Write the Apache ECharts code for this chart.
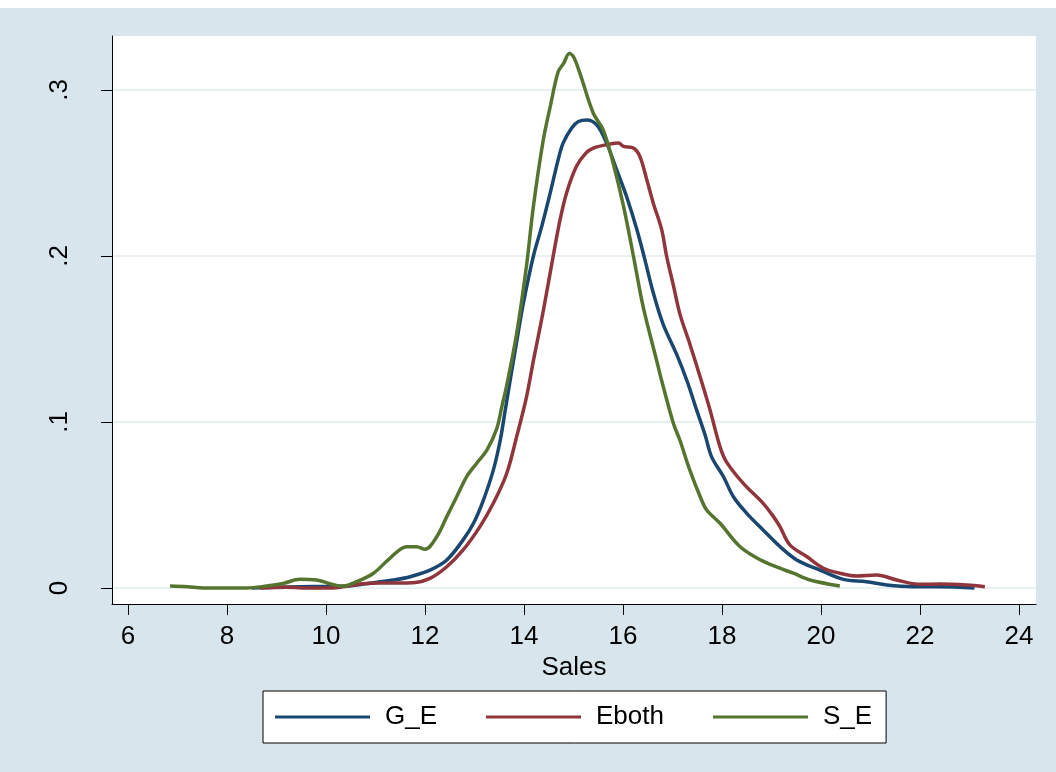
<!DOCTYPE html>
<html>
<head>
<meta charset="utf-8">
<script src="https://cdn.jsdelivr.net/npm/echarts@6/dist/echarts.min.js"></script>
<style>
html,body{margin:0;padding:0;background:#fff;}
#chart{width:1056px;height:772px;}
</style>
</head>
<body>
<div id="chart"></div>
<script>
// ---- data (x = Sales, y = density) ----
const seriesNames = ['G_E', 'Eboth', 'S_E'];
const xTicks = [6, 8, 10, 12, 14, 16, 18, 20, 22, 24];
const yTicks = [0, 0.1, 0.2, 0.3];
const yTickLabels = ['0', '.1', '.2', '.3'];
const xTitle = 'Sales';

const dataGE = [
  [8.5,0],[9.0,0.0004],[9.5,0.0008],[10.0,0.001],[10.42,0.0012],[10.8,0.0025],[11.09,0.0038],
  [11.4,0.005],[11.7,0.0068],[12.1,0.0108],[12.44,0.0169],[12.77,0.029],[12.98,0.039],
  [13.18,0.053],[13.38,0.071],[13.52,0.089],[13.62,0.107],[13.72,0.125],[13.85,0.148],
  [13.99,0.172],[14.19,0.2],[14.36,0.218],[14.53,0.238],[14.69,0.258],[14.79,0.268],
  [14.96,0.277],[15.1,0.281],[15.27,0.282],[15.47,0.279],[15.67,0.268],[15.87,0.252],
  [16.07,0.236],[16.28,0.216],[16.44,0.198],[16.61,0.178],[16.81,0.159],[17.08,0.141],
  [17.29,0.125],[17.49,0.107],[17.66,0.092],[17.79,0.079],[18.03,0.067],[18.23,0.055],
  [18.5,0.045],[18.83,0.035],[19.17,0.025],[19.51,0.0169],[19.98,0.0108],[20.45,0.0052],
  [20.92,0.0038],[21.33,0.0018],[21.86,0.0008],[22.4,0.0008],[23.1,0]
];
const dataEboth = [
  [8.67,0],[9.2,0.0004],[9.7,0],[10.08,0],[10.5,0.0015],[10.75,0.0026],[11.2,0.003],
  [11.76,0.0032],[12.1,0.0058],[12.44,0.0128],[12.77,0.0229],[13.11,0.037],[13.38,0.051],
  [13.65,0.069],[13.85,0.091],[14.05,0.115],[14.19,0.137],[14.39,0.167],[14.59,0.2],
  [14.73,0.222],[14.86,0.238],[15.06,0.254],[15.25,0.262],[15.4,0.265],[15.74,0.2675],
  [15.91,0.268],[16.01,0.266],[16.21,0.265],[16.34,0.26],[16.48,0.246],[16.61,0.232],
  [16.78,0.216],[16.88,0.2],[17.02,0.182],[17.15,0.165],[17.35,0.147],[17.56,0.127],
  [17.76,0.107],[17.96,0.085],[18.09,0.076],[18.43,0.063],[18.83,0.051],[19.04,0.043],
  [19.17,0.037],[19.37,0.026],[19.71,0.019],[20.05,0.0119],[20.38,0.0089],[20.72,0.0072],
  [21.12,0.0078],[21.53,0.0048],[22.0,0.0022],[22.4,0.0024],[22.94,0.0018],[23.31,0.0008]
];
const dataSE = [
  [6.85,0.0012],[7.2,0.0008],[7.52,0],[8.0,0],[8.4,0],[8.8,0.0012],[9.14,0.0028],
  [9.47,0.0052],[9.81,0.0048],[10.08,0.0026],[10.32,0.001],[10.62,0.0038],[10.96,0.0089],
  [11.29,0.0179],[11.63,0.0249],[11.83,0.0249],[12.0,0.0233],[12.24,0.031],[12.44,0.043],
  [12.64,0.055],[12.84,0.067],[13.04,0.075],[13.25,0.083],[13.45,0.096],[13.55,0.109],
  [13.65,0.122],[13.85,0.153],[14.05,0.194],[14.19,0.23],[14.39,0.27],[14.53,0.29],
  [14.69,0.311],[14.8,0.316],[14.915,0.322],[15.0,0.32],[15.13,0.31],[15.4,0.286],
  [15.6,0.276],[15.8,0.256],[16.01,0.23],[16.21,0.2],[16.41,0.169],[16.68,0.137],
  [16.78,0.125],[17.02,0.099],[17.15,0.089],[17.35,0.071],[17.56,0.055],[17.69,0.047],
  [17.96,0.039],[18.36,0.025],[18.77,0.017],[19.17,0.0119],[19.44,0.0089],[19.78,0.0048],
  [20.38,0.0012]
];
const allData = [dataGE, dataEboth, dataSE];
const colors = ['#1a476f', '#90353b', '#55752f'];

const FONT = 'Liberation Sans, Arial, Helvetica, sans-serif';
const FS = 26;
const chart = echarts.init(document.getElementById('chart'), null, {renderer: 'canvas'});

const option = {
  animation: false,
  backgroundColor: '#d9e5ec',
  graphic: [{
    type: 'rect', left: 0, top: 0, z: -10,
    shape: {width: 1056, height: 8},
    style: {fill: '#ffffff'}
  }],
  grid: {
    left: 112, top: 36, right: 20, bottom: 168,
    show: true, backgroundColor: '#ffffff', borderWidth: 0
  },
  legend: {
    data: seriesNames.map(n => ({name: n, icon: 'rect'})),
    left: 263, top: 691,
    orient: 'horizontal',
    backgroundColor: '#ffffff',
    borderColor: '#000000', borderWidth: 1,
    padding: [13, 14, 13, 12],
    itemWidth: 95, itemHeight: 3, itemGap: 49,
    textStyle: {color: '#000', fontSize: FS, fontFamily: FONT, padding: [0, 0, 0, 10]}
  },
  xAxis: {
    type: 'value',
    min: 5.677, max: 24.343,
    name: xTitle, nameLocation: 'middle', nameGap: 42,
    nameTextStyle: {color: '#000', fontSize: FS, fontFamily: FONT},
    axisLine: {show: true, onZero: false, lineStyle: {color: '#000', width: 1}},
    axisTick: {show: true, length: 11, customValues: xTicks, lineStyle: {color: '#000'}},
    axisLabel: {customValues: xTicks, margin: 20, color: '#000', fontSize: FS, fontFamily: FONT},
    splitLine: {show: false}
  },
  yAxis: {
    type: 'value',
    min: -0.00964, max: 0.33253,
    axisLine: {show: true, onZero: false, lineStyle: {color: '#000', width: 1}},
    axisTick: {show: true, length: 11, customValues: yTicks, lineStyle: {color: '#000'}},
    axisLabel: {
      customValues: yTicks, rotate: 90, margin: 39, color: '#000', fontSize: FS, fontFamily: FONT,
      formatter: function (v) {
        const i = yTicks.findIndex(t => Math.abs(t - v) < 1e-9);
        return i >= 0 ? yTickLabels[i] : '';
      }
    },
    splitLine: {show: true, lineStyle: {color: '#e8f0f2', width: 2}}
  },
  series: allData.map((d, i) => ({
    name: seriesNames[i],
    type: 'line',
    data: d,
    smooth: 0.35,
    symbol: 'none',
    showSymbol: false,
    color: colors[i],
    itemStyle: {color: colors[i]},
    lineStyle: {color: colors[i], width: 3.5},
    z: 2 + i
  }))
};
chart.setOption(option);
</script>
</body>
</html>
